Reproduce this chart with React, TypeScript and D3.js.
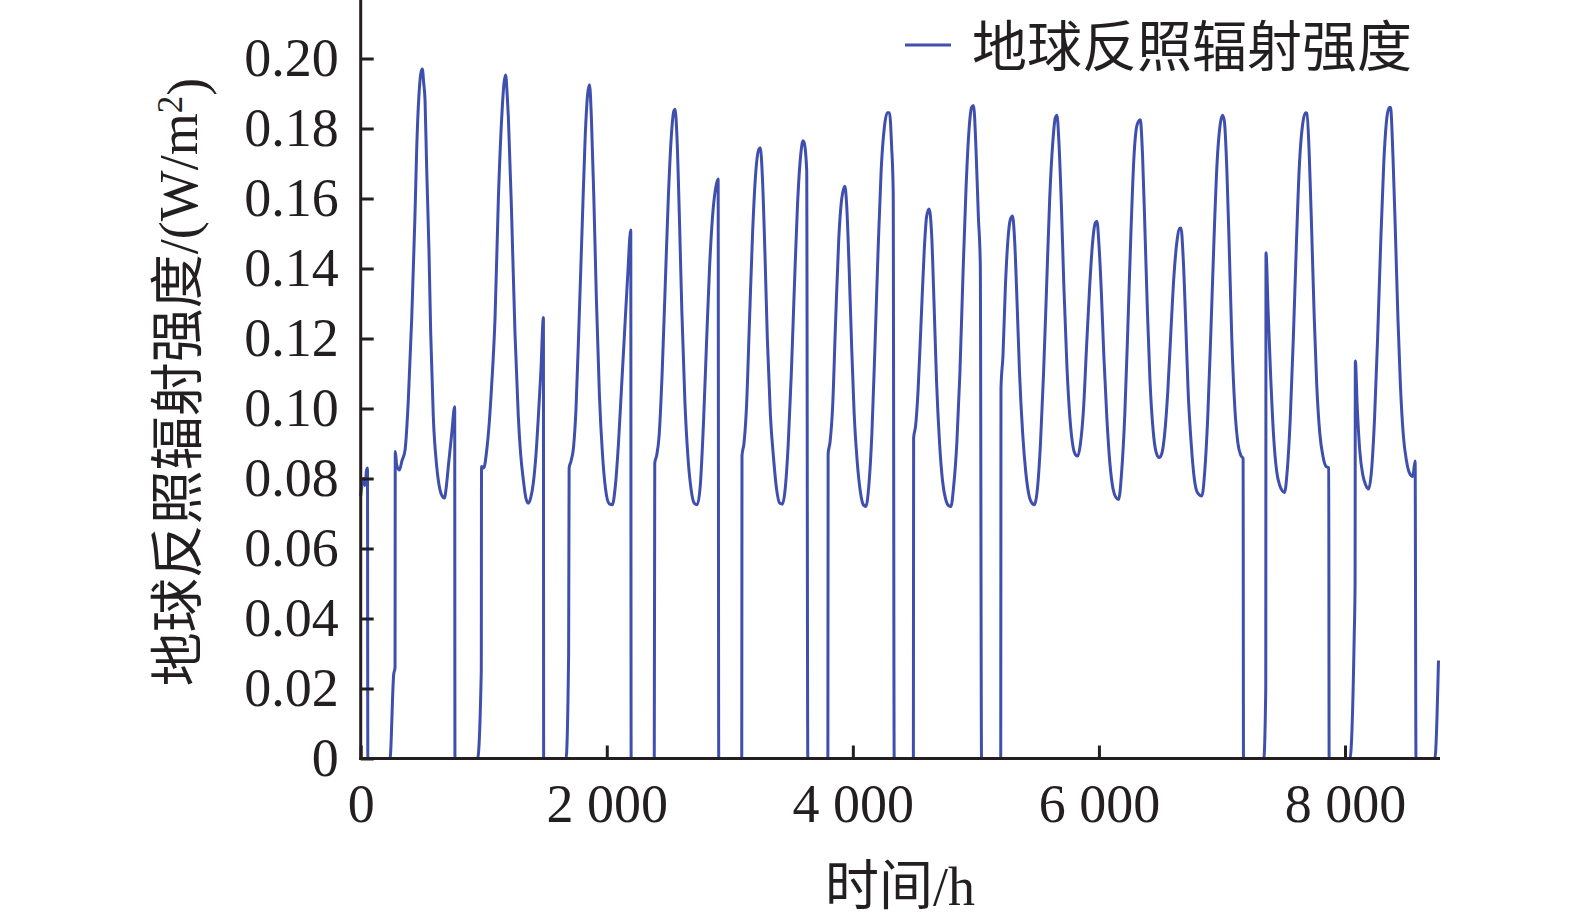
import { useRef, useEffect } from "react";
import * as d3 from "d3";

type Pt = [number, number];

// hour, albedo radiation (W/m2), one array per lit segment
const seg01: Pt[] = [[0, 0.075], [22, 0.08], [35, 0.078], [48, 0.0825], [55, 0.083], [58, 0]];
const seg02: Pt[] = [
  [238, 0], [268, 0.024], [279, 0.026], [281, 0.0877], [292, 0.084], [314, 0.0824], [335, 0.085],
  [360, 0.088], [387, 0.1024], [415, 0.126], [428, 0.1405], [441, 0.155], [455, 0.174], [476, 0.191],
  [490, 0.196], [501, 0.197], [512, 0.193], [523, 0.188], [536, 0.169], [555, 0.145], [569, 0.1215],
  [590, 0.0977], [618, 0.0834], [645, 0.0767], [662, 0.075], [680, 0.0744], [697, 0.078],
  [712, 0.0834], [740, 0.0929], [764, 0.1005], [766, 0],
];
const seg03: Pt[] = [
  [950, 0], [980, 0.025], [982, 0.0834], [1000, 0.083], [1024, 0.088], [1045, 0.096], [1065, 0.107],
  [1092, 0.126], [1119, 0.16], [1146, 0.183], [1165, 0.193], [1178, 0.1953], [1190, 0.19],
  [1200, 0.1834], [1227, 0.155], [1254, 0.1215], [1281, 0.0977], [1300, 0.087], [1322, 0.0796],
  [1342, 0.0745], [1362, 0.0729], [1382, 0.0745], [1403, 0.0787], [1425, 0.087], [1444, 0.0977],
  [1465, 0.111], [1485, 0.126], [1487, 0],
];
const seg04: Pt[] = [
  [1669, 0], [1690, 0.03], [1694, 0.083], [1710, 0.085], [1730, 0.089], [1750, 0.1], [1775, 0.125],
  [1800, 0.152], [1825, 0.178], [1845, 0.19], [1860, 0.1925], [1875, 0.183], [1895, 0.16],
  [1915, 0.132], [1940, 0.104], [1965, 0.087], [1990, 0.077], [2020, 0.0728], [2045, 0.0725],
  [2070, 0.078], [2095, 0.09], [2120, 0.106], [2145, 0.122], [2170, 0.138], [2195, 0.151], [2198, 0],
];
const seg05: Pt[] = [
  [2386, 0], [2390, 0.0844], [2405, 0.0865], [2425, 0.092], [2450, 0.11], [2475, 0.135], [2500, 0.16],
  [2525, 0.178], [2545, 0.185], [2555, 0.1855], [2570, 0.178], [2590, 0.155], [2610, 0.128],
  [2635, 0.102], [2660, 0.086], [2685, 0.077], [2710, 0.073], [2735, 0.0725], [2760, 0.078],
  [2785, 0.095], [2810, 0.118], [2835, 0.14], [2860, 0.155], [2885, 0.163], [2905, 0.1656], [2910, 0],
];
const seg06: Pt[] = [
  [3097, 0], [3099, 0.0865], [3115, 0.09], [3135, 0.1], [3160, 0.125], [3185, 0.15], [3210, 0.167],
  [3235, 0.174], [3248, 0.1745], [3265, 0.166], [3285, 0.145], [3305, 0.12], [3330, 0.098],
  [3355, 0.086], [3380, 0.077], [3405, 0.073], [3428, 0.0727], [3450, 0.077], [3475, 0.09],
  [3500, 0.11], [3525, 0.135], [3550, 0.158], [3575, 0.172], [3595, 0.1765], [3604, 0.176],
  [3625, 0.168], [3634, 0],
];
const seg07: Pt[] = [
  [3797, 0], [3799, 0.087], [3815, 0.0905], [3835, 0.1], [3860, 0.125], [3885, 0.148], [3910, 0.16],
  [3935, 0.1635], [3950, 0.158], [3970, 0.14], [3990, 0.118], [4010, 0.099], [4035, 0.085],
  [4060, 0.0765], [4085, 0.0725], [4106, 0.072], [4130, 0.078], [4155, 0.093], [4180, 0.118],
  [4205, 0.145], [4230, 0.168], [4255, 0.18], [4280, 0.1845], [4298, 0.1845], [4315, 0.175],
  [4328, 0.162], [4336, 0],
];
const seg08: Pt[] = [
  [4492, 0], [4494, 0.0916], [4510, 0.095], [4530, 0.105], [4555, 0.125], [4580, 0.145], [4600, 0.155],
  [4620, 0.157], [4640, 0.15], [4660, 0.13], [4680, 0.108], [4705, 0.09], [4730, 0.079], [4755, 0.074],
  [4780, 0.0722], [4797, 0.072], [4820, 0.078], [4845, 0.09], [4870, 0.11], [4895, 0.138],
  [4920, 0.163], [4945, 0.18], [4965, 0.186], [4981, 0.1866], [5000, 0.175], [5020, 0.155],
  [5036, 0.141], [5046, 0],
];
const seg09: Pt[] = [
  [5202, 0], [5204, 0.1058], [5220, 0.115], [5240, 0.135], [5260, 0.148], [5280, 0.154], [5298, 0.155],
  [5315, 0.148], [5335, 0.13], [5355, 0.11], [5380, 0.093], [5405, 0.082], [5430, 0.0755],
  [5455, 0.073], [5476, 0.0725], [5500, 0.077], [5525, 0.09], [5550, 0.11], [5575, 0.135],
  [5600, 0.16], [5625, 0.176], [5645, 0.183], [5659, 0.1838], [5675, 0.176], [5695, 0.158],
  [5715, 0.135], [5740, 0.112], [5765, 0.097], [5790, 0.089], [5810, 0.0868], [5828, 0.0864],
  [5850, 0.09], [5875, 0.1], [5900, 0.118], [5925, 0.135], [5950, 0.148], [5970, 0.153],
  [5984, 0.1535], [6000, 0.147], [6020, 0.133], [6040, 0.115], [6065, 0.097], [6090, 0.084],
  [6115, 0.077], [6140, 0.0745], [6160, 0.074], [6185, 0.082], [6210, 0.098], [6235, 0.123],
  [6260, 0.15], [6285, 0.172], [6310, 0.181], [6336, 0.1825], [6355, 0.172], [6375, 0.15],
  [6395, 0.127], [6415, 0.108], [6440, 0.094], [6465, 0.0875], [6490, 0.086], [6510, 0.087],
  [6535, 0.093], [6560, 0.105], [6585, 0.122], [6610, 0.138], [6635, 0.148], [6655, 0.1515],
  [6667, 0.1516], [6685, 0.143], [6705, 0.125], [6725, 0.105], [6750, 0.09], [6775, 0.08],
  [6800, 0.076], [6837, 0.075], [6860, 0.082], [6885, 0.098], [6910, 0.122], [6935, 0.148],
  [6960, 0.17], [6985, 0.181], [7005, 0.1838], [7020, 0.182], [7040, 0.168], [7060, 0.145],
  [7080, 0.12], [7105, 0.1], [7130, 0.09], [7155, 0.0865], [7172, 0.0857], [7175, 0],
];
const seg10: Pt[] = [
  [7340, 0], [7356, 0.02], [7358, 0.1445], [7375, 0.128], [7395, 0.11], [7420, 0.092], [7445, 0.082],
  [7470, 0.078], [7490, 0.0765], [7509, 0.076], [7530, 0.082], [7555, 0.097], [7580, 0.12],
  [7605, 0.147], [7630, 0.17], [7655, 0.181], [7680, 0.1845], [7691, 0.1844], [7710, 0.172],
  [7730, 0.15], [7750, 0.126], [7770, 0.107], [7795, 0.093], [7820, 0.0865], [7845, 0.0835],
  [7868, 0.083], [7871, 0],
];
const seg11: Pt[] = [
  [8040, 0], [8075, 0.035], [8082, 0.05], [8084, 0.1136], [8100, 0.1], [8120, 0.088], [8145, 0.081],
  [8170, 0.078], [8192, 0.077], [8215, 0.082], [8240, 0.097], [8265, 0.12], [8290, 0.147],
  [8315, 0.17], [8340, 0.183], [8360, 0.186], [8370, 0.186], [8390, 0.172], [8410, 0.15],
  [8430, 0.126], [8450, 0.107], [8475, 0.092], [8500, 0.085], [8525, 0.0815], [8551, 0.0806],
  [8570, 0.085], [8577, 0],
];
const seg12: Pt[] = [[8730, 0], [8760, 0.028]];

const xTicks = [0, 2000, 4000, 6000, 8000];
const yTicks = [0, 0.02, 0.04, 0.06, 0.08, 0.1, 0.12, 0.14, 0.16, 0.18, 0.2];
const seriesName = "地球反照辐射强度";
const xTitle = "时间/h";
const yTitle = "地球反照辐射强度/(W/m";

const FONT = "'Liberation Serif', 'Noto Sans CJK SC', serif";
const INK = "#231f20";
const BLUE = "#3f4fae";

export default function App() {
  const ref = useRef<SVGSVGElement>(null);

  useEffect(() => {
    if (!ref.current) return;
    const svg = d3.select(ref.current);
    svg.selectAll("*").remove();

    const data = [
      ...seg01, ...seg02, ...seg03, ...seg04, ...seg05, ...seg06,
      ...seg07, ...seg08, ...seg09, ...seg10, ...seg11, ...seg12,
    ];

    const x = d3.scaleLinear().domain([0, 8760]).range([360.7, 1438.5]);
    const y = d3.scaleLinear().domain([0, 0.2]).range([758.5, 58.5]);

    // series
    const line = d3
      .line<Pt>()
      .curve(d3.curveMonotoneX)
      .x((d) => x(d[0]))
      .y((d) => y(d[1]));
    svg
      .append("path")
      .datum(data)
      .attr("d", line)
      .attr("fill", "none")
      .attr("stroke", BLUE)
      .attr("stroke-width", 3)
      .attr("stroke-linejoin", "round");

    // axes, ticks pointing inward
    const fmtX = d3.formatLocale({
      decimal: ".",
      thousands: " ",
      grouping: [3],
      currency: ["", ""],
    }).format(",");
    const gx = svg
      .append("g")
      .attr("transform", `translate(0, ${y(0)})`)
      .call(
        d3
          .axisBottom(x)
          .tickValues(xTicks)
          .tickSizeInner(-13)
          .tickSizeOuter(0)
          .tickPadding(25)
          .tickFormat((d) => fmtX(d as number)),
      );
    const gy = svg
      .append("g")
      .attr("transform", `translate(${x(0)}, 0)`)
      .call(
        d3
          .axisLeft(y)
          .tickValues(yTicks)
          .tickSizeInner(-13)
          .tickSizeOuter(0)
          .tickPadding(22)
          .tickFormat((d) => ((d as number) === 0 ? "0" : d3.format(".2f")(d as number))),
      );
    [gx, gy].forEach((g) => {
      g.select(".domain").remove();
      g.attr("font-family", FONT).attr("font-size", 54);
      g.selectAll("line").attr("stroke", INK).attr("stroke-width", 3);
      g.selectAll("text").attr("fill", INK);
    });

    svg
      .append("line")
      .attr("x1", x(0))
      .attr("x2", x(0))
      .attr("y1", y(0) + 1.5)
      .attr("y2", 0)
      .attr("stroke", INK)
      .attr("stroke-width", 3);
    svg
      .append("line")
      .attr("x1", x(0) - 1.5)
      .attr("x2", 1440)
      .attr("y1", y(0))
      .attr("y2", y(0))
      .attr("stroke", INK)
      .attr("stroke-width", 3);

    // titles
    svg
      .append("text")
      .attr("x", 900)
      .attr("y", 905)
      .attr("text-anchor", "middle")
      .attr("font-family", FONT)
      .attr("font-size", 54)
      .attr("fill", INK)
      .text(xTitle);

    const yt = svg
      .append("text")
      .attr("transform", "translate(197, 382) rotate(-90)")
      .attr("text-anchor", "middle")
      .attr("font-family", FONT)
      .attr("font-size", 54)
      .attr("fill", INK);
    yt.append("tspan").text(yTitle);
    yt.append("tspan").attr("dy", "-0.42em").attr("font-size", "65%").text("2");
    yt.append("tspan").attr("dy", "0.42em").text(")");

    // legend
    svg
      .append("line")
      .attr("x1", 905)
      .attr("x2", 951)
      .attr("y1", 45)
      .attr("y2", 45)
      .attr("stroke", BLUE)
      .attr("stroke-width", 3);
    svg
      .append("text")
      .attr("x", 972)
      .attr("y", 66)
      .attr("font-family", FONT)
      .attr("font-size", 55)
      .attr("fill", INK)
      .text(seriesName);
  }, []);

  return (
    <svg
      ref={ref}
      width={1575}
      height={922}
      style={{ position: "absolute", left: 0, top: 0, background: "#fff" }}
    />
  );
}
